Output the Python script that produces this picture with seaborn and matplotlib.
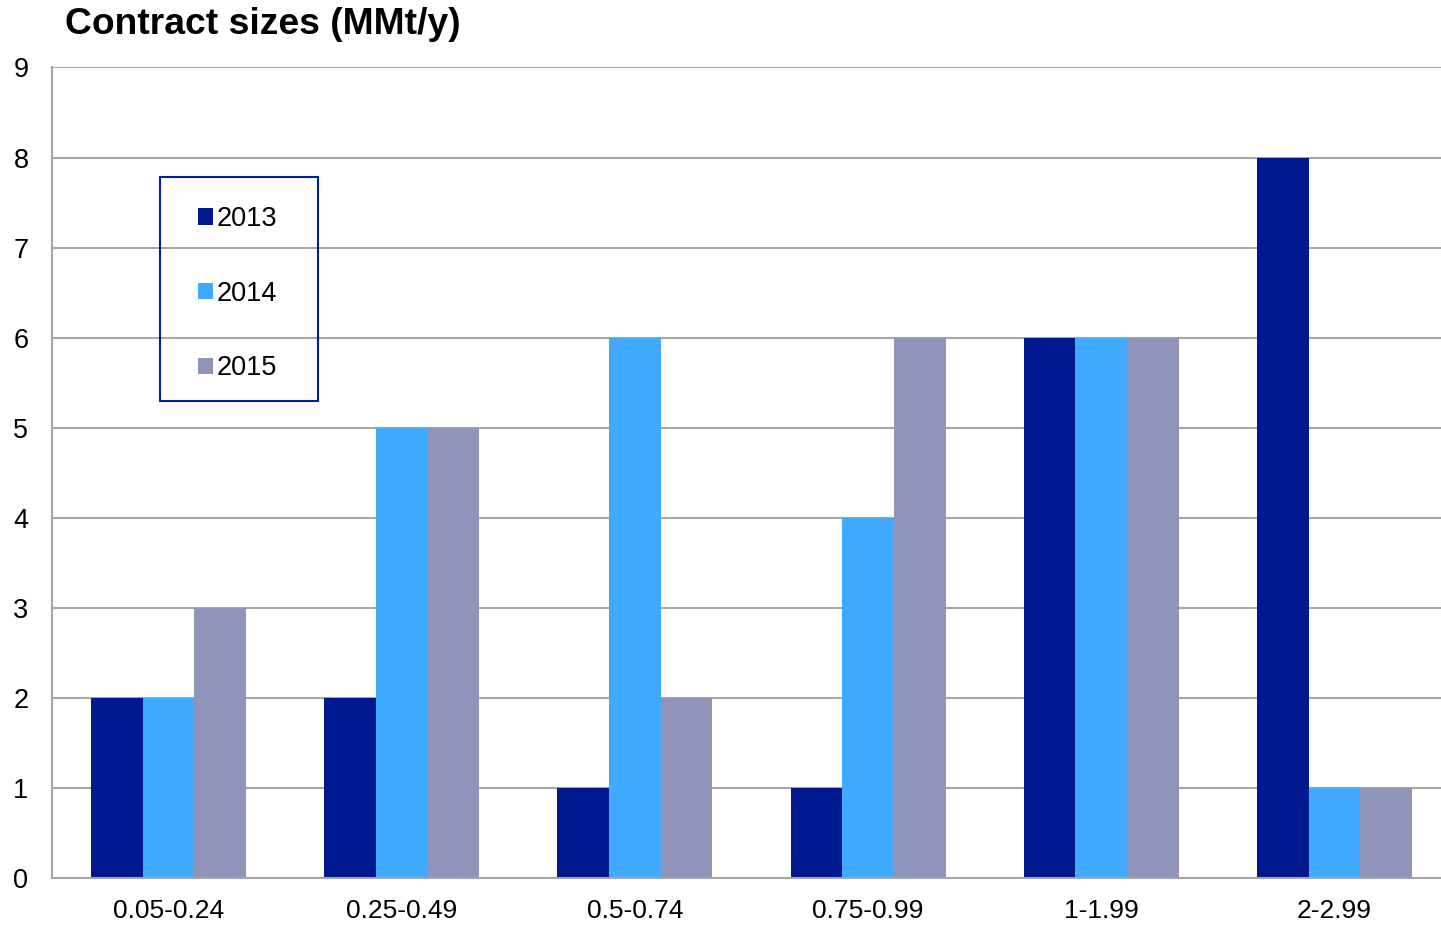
import matplotlib
matplotlib.use("Agg")
import matplotlib.pyplot as plt
from matplotlib.patches import Rectangle
import pandas as pd
import seaborn as sns

# Contract size bands and number of contracts per year
size_bands = ["0.05-0.24", "0.25-0.49", "0.5-0.74", "0.75-0.99", "1-1.99", "2-2.99"]
years = ["2013", "2014", "2015"]
counts_2013 = [2, 2, 1, 1, 6, 8]
counts_2014 = [2, 5, 6, 4, 6, 1]
counts_2015 = [3, 5, 2, 6, 6, 1]
year_colors = ["#001890", "#3FAAFF", "#9094B8"]

rows = []
for year, counts in zip(years, [counts_2013, counts_2014, counts_2015]):
    for band, c in zip(size_bands, counts):
        rows.append({"band": band, "year": year, "count": c})
df = pd.DataFrame(rows)

sns.set_theme(style="white")
plt.rcParams["font.family"] = ["Liberation Sans", "DejaVu Sans"]
plt.rcParams["text.color"] = "black"

W, H = 1441, 925
fig = plt.figure(figsize=(W / 100, H / 100), dpi=100)
# plot area runs slightly past the right edge of the canvas
ax_left, ax_right, ax_bottom, ax_top = 52, 1451, 878, 67
ax = fig.add_axes([ax_left / W, (H - ax_bottom) / H,
                   (ax_right - ax_left) / W, (ax_bottom - ax_top) / H])
axw, axh = ax_right - ax_left, ax_bottom - ax_top

sns.barplot(
    data=df, x="band", y="count", hue="year",
    order=size_bands, hue_order=years,
    palette=year_colors, saturation=1, width=0.665,
    linewidth=0, edgecolor="none", errorbar=None, ax=ax,
)

ax.set_ylim(0, 9.005)
ax.set_xlim(-0.5, len(size_bands) - 0.5)
ax.set_yticks(range(0, 10))
ax.set_axisbelow(True)
ax.yaxis.grid(True, color="#A6A6A6", linewidth=1.5)
ax.xaxis.grid(False)

for side in ["top", "right"]:
    ax.spines[side].set_visible(False)
for side in ["left", "bottom"]:
    ax.spines[side].set_color("#A6A6A6")
    ax.spines[side].set_linewidth(1.5)

ax.tick_params(axis="y", length=0, pad=17, labelsize=19.5, labelcolor="black")
ax.tick_params(axis="x", length=0, pad=15, labelsize=19, labelcolor="black")
ax.set_xlabel("")
ax.set_ylabel("")

fig.text(65 / W, 1 - 24 / H, "Contract sizes (MMt/y)", fontsize=26.8,
         fontweight="bold", ha="left", va="center", color="black")

# Legend with a separately drawn frame
handles, labels = ax.get_legend_handles_labels()
leg = ax.legend(
    handles, labels, frameon=False, loc="upper left",
    bbox_to_anchor=((198 - ax_left) / axw, (ax_bottom - 206) / axh),
    borderaxespad=0, borderpad=0, fontsize=19.5,
    handlelength=0.55, handleheight=0.55, handletextpad=0.12,
    labelspacing=1.8,
)
for t in leg.get_texts():
    t.set_color("black")
ax.add_patch(Rectangle(
    ((160 - ax_left) / axw, (ax_bottom - 401) / axh), 158 / axw, 224 / axh,
    transform=ax.transAxes, fill=False, edgecolor="#00209F",
    linewidth=1.5, clip_on=False, zorder=5,
))

fig.savefig("out.png", dpi=100)
